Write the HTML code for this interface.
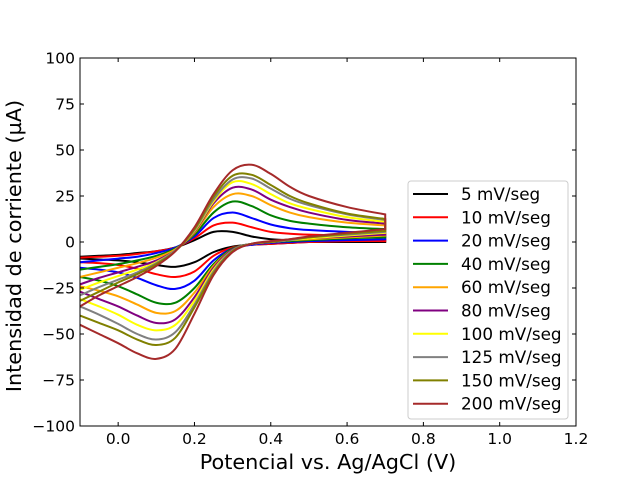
<!DOCTYPE html>
<html><head><meta charset="utf-8"><style>
body{margin:0;background:#fff;}
svg{display:block;font-family:"DejaVu Sans","Liberation Sans",sans-serif;}
</style></head><body>
<svg id="chart" width="640" height="480">
<rect x="0" y="0" width="640" height="480" fill="#fff"/>
<g id="marks"></g>
<rect x="80" y="58" width="496" height="368" fill="none" stroke="#000" stroke-width="1"/>
<g id="ticks"></g>
<text x="328" y="469" font-size="20.8" text-anchor="middle">Potencial vs. Ag/AgCl (V)</text>
<text x="21" y="246" font-size="20.8" text-anchor="middle" transform="rotate(-90 21 246)">Intensidad de corriente (µA)</text>
<g id="legend"></g>
</svg>
<script>
const seriesNames=["5 mV/seg","10 mV/seg","20 mV/seg","40 mV/seg","60 mV/seg","80 mV/seg","100 mV/seg","125 mV/seg","150 mV/seg","200 mV/seg"];
const seriesColors=["#000000","#ff0000","#0000ff","#008000","#ffa500","#800080","#ffff00","#808080","#808000","#a52a2a"];
const forwardE=[-0.1,-0.05,0.0,0.05,0.1,0.15,0.2,0.25,0.3,0.35,0.4,0.45,0.5,0.6,0.7];
const reverseE=[0.7,0.6,0.5,0.45,0.4,0.35,0.3,0.25,0.2,0.15,0.1,0.05,0.0,-0.05,-0.1];
const forwardI=[
[-8,-7.5,-7,-6,-5,-3,1,5.5,5.5,3,1.5,1,1,1,1],
[-8.5,-8,-7.5,-6.5,-5,-3,2,9,10.5,8,5.5,4.5,4,3.5,3],
[-11,-10,-9,-8,-6,-3,3,13,16,13,9.5,7.5,6.5,5.5,5],
[-15,-13.5,-12,-10,-7.5,-3.5,4,16,22,19.5,14.5,11.5,10,8,7],
[-19,-16.5,-14,-11.5,-8.5,-4,5,19,26,25,20,16,13.5,10.5,9],
[-23,-19.5,-16.5,-13.5,-10,-4.5,5.5,21,29.5,28.5,23,19,16,12,10],
[-26,-22,-18.5,-15,-11,-4.5,6,22,32.5,31.5,26,21,18,13.5,11],
[-29,-24.5,-20.5,-16.5,-11.5,-4.5,6.5,23,34,34.5,29,23.5,20,15,12],
[-32,-27,-22,-17.5,-12,-5,7,24.5,36,36.5,31,25,21,15.5,12.5],
[-35,-29,-24,-19,-13,-5,8,26,39,42,37,30,25,19,15]];
const reverseI=[
[0,0,0,-0.5,-1,-1.5,-2.5,-5.5,-11,-13.5,-12.5,-11,-10,-9.5,-9],
[0.5,0.5,0,-0.5,-1,-1.5,-3,-7.5,-16,-19,-17.5,-14.5,-12.5,-11.5,-11],
[1.5,1,0.5,0,-0.5,-1.5,-3.5,-10,-21,-25.5,-23.5,-19.5,-16.5,-15,-14],
[2.5,2,1,0.5,0,-1,-3.5,-12,-25,-33,-33,-28.5,-24,-21,-19],
[3.5,2.5,1.5,1,0,-1,-4,-13,-27.5,-37.5,-38.5,-34,-29.5,-26.5,-24],
[4,3,2,1,0,-1,-4,-14,-30,-42,-44,-40,-35,-31,-27],
[5,3.5,2,1,0,-1,-4.5,-15,-32,-45,-48,-45,-39.5,-35,-31],
[5.5,4,2.5,1,0,-1,-4.5,-16,-34,-49,-53,-50,-44.5,-39.5,-35],
[6,4.5,2.5,1.5,0,-1,-5,-17,-35.5,-52,-56,-53,-48,-44,-40],
[7,5,3,1.5,0.5,-1,-5.5,-18,-39,-58,-63.5,-60.5,-55,-50,-45]];
const xTicks=[0.0,0.2,0.4,0.6,0.8,1.0,1.2];
const xTickLabels=["0.0","0.2","0.4","0.6","0.8","1.0","1.2"];
const yTicks=[-100,-75,-50,-25,0,25,50,75,100];
const yTickLabels=["−100","−75","−50","−25","0","25","50","75","100"];

const NS="http://www.w3.org/2000/svg";
const X0=80,X1=576,Y0=58,Y1=426,XMIN=-0.1,XMAX=1.2,YMIN=-100,YMAX=100;
function sx(v){return X0+(v-XMIN)/(XMAX-XMIN)*(X1-X0);}
function sy(v){return Y1-(v-YMIN)/(YMAX-YMIN)*(Y1-Y0);}
function smooth(pts){
  let d="M"+pts[0][0].toFixed(2)+","+pts[0][1].toFixed(2);
  for(let i=0;i<pts.length-1;i++){
    const p0=pts[Math.max(0,i-1)],p1=pts[i],p2=pts[i+1],p3=pts[Math.min(pts.length-1,i+2)];
    const c1=[p1[0]+(p2[0]-p0[0])/6,p1[1]+(p2[1]-p0[1])/6];
    const c2=[p2[0]-(p3[0]-p1[0])/6,p2[1]-(p3[1]-p1[1])/6];
    d+="C"+c1[0].toFixed(2)+","+c1[1].toFixed(2)+" "+c2[0].toFixed(2)+","+c2[1].toFixed(2)+" "+p2[0].toFixed(2)+","+p2[1].toFixed(2);
  }
  return d;
}
const marks=document.getElementById("marks");
for(let s=0;s<seriesNames.length;s++){
  const pf=forwardE.map((e,i)=>[sx(e),sy(forwardI[s][i])]);
  const pr=reverseE.map((e,i)=>[sx(e),sy(reverseI[s][i])]);
  const d=smooth(pf)+"L"+smooth(pr).slice(1);
  const p=document.createElementNS(NS,"path");
  p.setAttribute("d",d);
  p.setAttribute("fill","none");
  p.setAttribute("stroke",seriesColors[s]);
  p.setAttribute("stroke-width","2");
  
  
  marks.appendChild(p);
}
const ticks=document.getElementById("ticks");
function add(tag,attrs,txt){const e=document.createElementNS(NS,tag);for(const k in attrs)e.setAttribute(k,attrs[k]);if(txt!==undefined)e.textContent=txt;ticks.appendChild(e);return e;}
xTicks.forEach((v,i)=>{
  const x=sx(v);
  const t=add("line",{x1:x,x2:x,y1:Y1,y2:Y1-4,stroke:"#000"});
  
  
  const t2=add("line",{x1:x,x2:x,y1:Y0,y2:Y0+4,stroke:"#000"});
  
  
  const l=add("text",{x:x,y:Y1+18,"font-size":"15.5","text-anchor":"middle"},xTickLabels[i]);
  
  
});
yTicks.forEach((v,i)=>{
  const y=sy(v);
  const t=add("line",{x1:X0,x2:X0+4,y1:y,y2:y,stroke:"#000"});
  
  
  const t2=add("line",{x1:X1,x2:X1-4,y1:y,y2:y,stroke:"#000"});
  
  
  const l=add("text",{x:X0-5,y:y+5.5,"font-size":"15.5","text-anchor":"end"},yTickLabels[i]);
  
  
});
const lg=document.getElementById("legend");
const box=document.createElementNS(NS,"rect");
box.setAttribute("x","408");box.setAttribute("y","181");box.setAttribute("width","160");box.setAttribute("height","238");
box.setAttribute("rx","3");box.setAttribute("fill","#fff");box.setAttribute("fill-opacity","0.8");box.setAttribute("stroke","#ccc");


lg.appendChild(box);
seriesNames.forEach((n,i)=>{
  const y=194+i*23.3;
  const l=document.createElementNS(NS,"line");
  l.setAttribute("x1","413");l.setAttribute("x2","448");l.setAttribute("y1",y);l.setAttribute("y2",y);
  l.setAttribute("stroke",seriesColors[i]);l.setAttribute("stroke-width","2");
  
  
  lg.appendChild(l);
  const t=document.createElementNS(NS,"text");
  t.setAttribute("x","461");t.setAttribute("y",y+6);t.setAttribute("font-size","16.8");
  t.textContent=n;
  
  
  lg.appendChild(t);
});
</script>
</body></html>
